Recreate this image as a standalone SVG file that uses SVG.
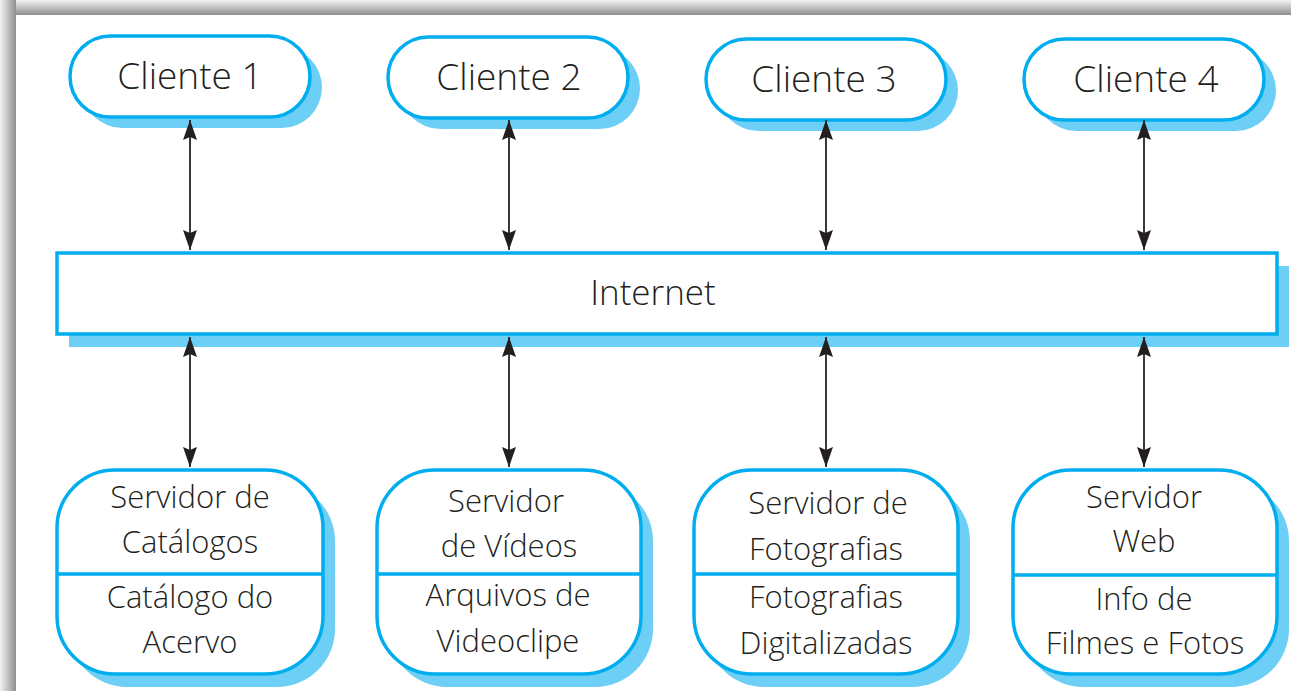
<svg xmlns="http://www.w3.org/2000/svg" width="1291" height="691" viewBox="0 0 1291 691">
<defs>
<linearGradient id="gTop" x1="0" y1="0" x2="0" y2="1"><stop offset="0" stop-color="#f2f2f2"/><stop offset="1" stop-color="#8f8f8f"/></linearGradient>
<linearGradient id="gLeft" x1="0" y1="0" x2="1" y2="0"><stop offset="0" stop-color="#f2f2f2"/><stop offset="1" stop-color="#8f8f8f"/></linearGradient>
<marker id="ah" viewBox="0 0 20 14" markerUnits="userSpaceOnUse" markerWidth="20" markerHeight="14" refX="20" refY="7" orient="auto-start-reverse"><path d="M0,0 L20,7 L0,14 L3,7 z" fill="#231f20"/></marker>
</defs>
<style>
.shadow{fill:#6dcff6;}
.box{fill:#fff;stroke:#00aeef;stroke-width:3.5;}
.div{stroke:#00aeef;stroke-width:3.5;}
.t{font-family:"Open Sans","Liberation Sans",sans-serif;font-weight:300;fill:#231f20;text-anchor:middle;}
.c{font-size:37px;}
.i{font-size:35px;}
.s{font-size:31px;}
.conn{stroke:#3a3a3a;stroke-width:2;fill:none;marker-start:url(#ah);marker-end:url(#ah);}
</style>
<rect x="0" y="0" width="1291" height="691" fill="#fff"/>
<rect x="0" y="0" width="1291" height="15" fill="url(#gTop)"/>
<rect x="0" y="0" width="16" height="691" fill="url(#gLeft)"/>
<rect x="16" y="15" width="1275" height="676" fill="#fff"/>

<g id="cliente1">
<rect class="shadow" x="82" y="47" width="240" height="81" rx="40.5"/>
<rect class="box" x="70" y="36" width="240" height="81" rx="40.5"/>
<text class="t c" x="190" y="89">Cliente 1</text>
</g>
<g id="cliente2">
<rect class="shadow" x="400" y="48" width="240" height="81" rx="40.5"/>
<rect class="box" x="388" y="37" width="240" height="81" rx="40.5"/>
<text class="t c" x="509" y="90">Cliente 2</text>
</g>
<g id="cliente3">
<rect class="shadow" x="718" y="50" width="240" height="81" rx="40.5"/>
<rect class="box" x="706" y="39" width="240" height="81" rx="40.5"/>
<text class="t c" x="824" y="92">Cliente 3</text>
</g>
<g id="cliente4">
<rect class="shadow" x="1036" y="50" width="240" height="81" rx="40.5"/>
<rect class="box" x="1024" y="39" width="240" height="81" rx="40.5"/>
<text class="t c" x="1146" y="92">Cliente 4</text>
</g>

<g id="internet">
<rect class="shadow" x="69" y="266" width="1220" height="81"/>
<rect class="box" x="57" y="253" width="1220" height="81"/>
<text class="t i" x="653" y="305">Internet</text>
</g>

<g id="servidor1">
<rect class="shadow" x="69" y="483" width="266" height="204" rx="58"/>
<rect class="box" x="57" y="470" width="266" height="204" rx="58"/>
<line class="div" x1="57" y1="574" x2="323" y2="574"/>
<text class="t s" x="190" y="508">Servidor de</text>
<text class="t s" x="190" y="553">Catálogos</text>
<text class="t s" x="190" y="608">Catálogo do</text>
<text class="t s" x="190" y="653">Acervo</text>
</g>
<g id="servidor2">
<rect class="shadow" x="389" y="483" width="264" height="204" rx="58"/>
<rect class="box" x="377" y="470" width="264" height="204" rx="58"/>
<line class="div" x1="377" y1="574" x2="641" y2="574"/>
<text class="t s" x="506" y="512">Servidor</text>
<text class="t s" x="509" y="557">de Vídeos</text>
<text class="t s" x="508" y="606">Arquivos de</text>
<text class="t s" x="508" y="652">Videoclipe</text>
</g>
<g id="servidor3">
<rect class="shadow" x="706" y="483" width="264" height="204" rx="58"/>
<rect class="box" x="694" y="470" width="264" height="204" rx="58"/>
<line class="div" x1="694" y1="574" x2="958" y2="574"/>
<text class="t s" x="828" y="514">Servidor de</text>
<text class="t s" x="826" y="560">Fotografias</text>
<text class="t s" x="826" y="608">Fotografias</text>
<text class="t s" x="826" y="654">Digitalizadas</text>
</g>
<g id="servidor4">
<rect class="shadow" x="1025" y="483" width="264" height="204" rx="58"/>
<rect class="box" x="1013" y="470" width="264" height="204" rx="58"/>
<line class="div" x1="1013" y1="575" x2="1277" y2="575"/>
<text class="t s" x="1144" y="508">Servidor</text>
<text class="t s" x="1144" y="552">Web</text>
<text class="t s" x="1144" y="610">Info de</text>
<text class="t s" x="1145" y="654">Filmes e Fotos</text>
</g>

<g id="connectors">
<line class="conn" x1="190" y1="120" x2="190" y2="250"/>
<line class="conn" x1="509" y1="120" x2="509" y2="250"/>
<line class="conn" x1="826" y1="120" x2="826" y2="250"/>
<line class="conn" x1="1144" y1="120" x2="1144" y2="250"/>
<line class="conn" x1="190" y1="337" x2="190" y2="467"/>
<line class="conn" x1="509" y1="337" x2="509" y2="467"/>
<line class="conn" x1="826" y1="337" x2="826" y2="467"/>
<line class="conn" x1="1144" y1="337" x2="1144" y2="467"/>
</g>
</svg>
